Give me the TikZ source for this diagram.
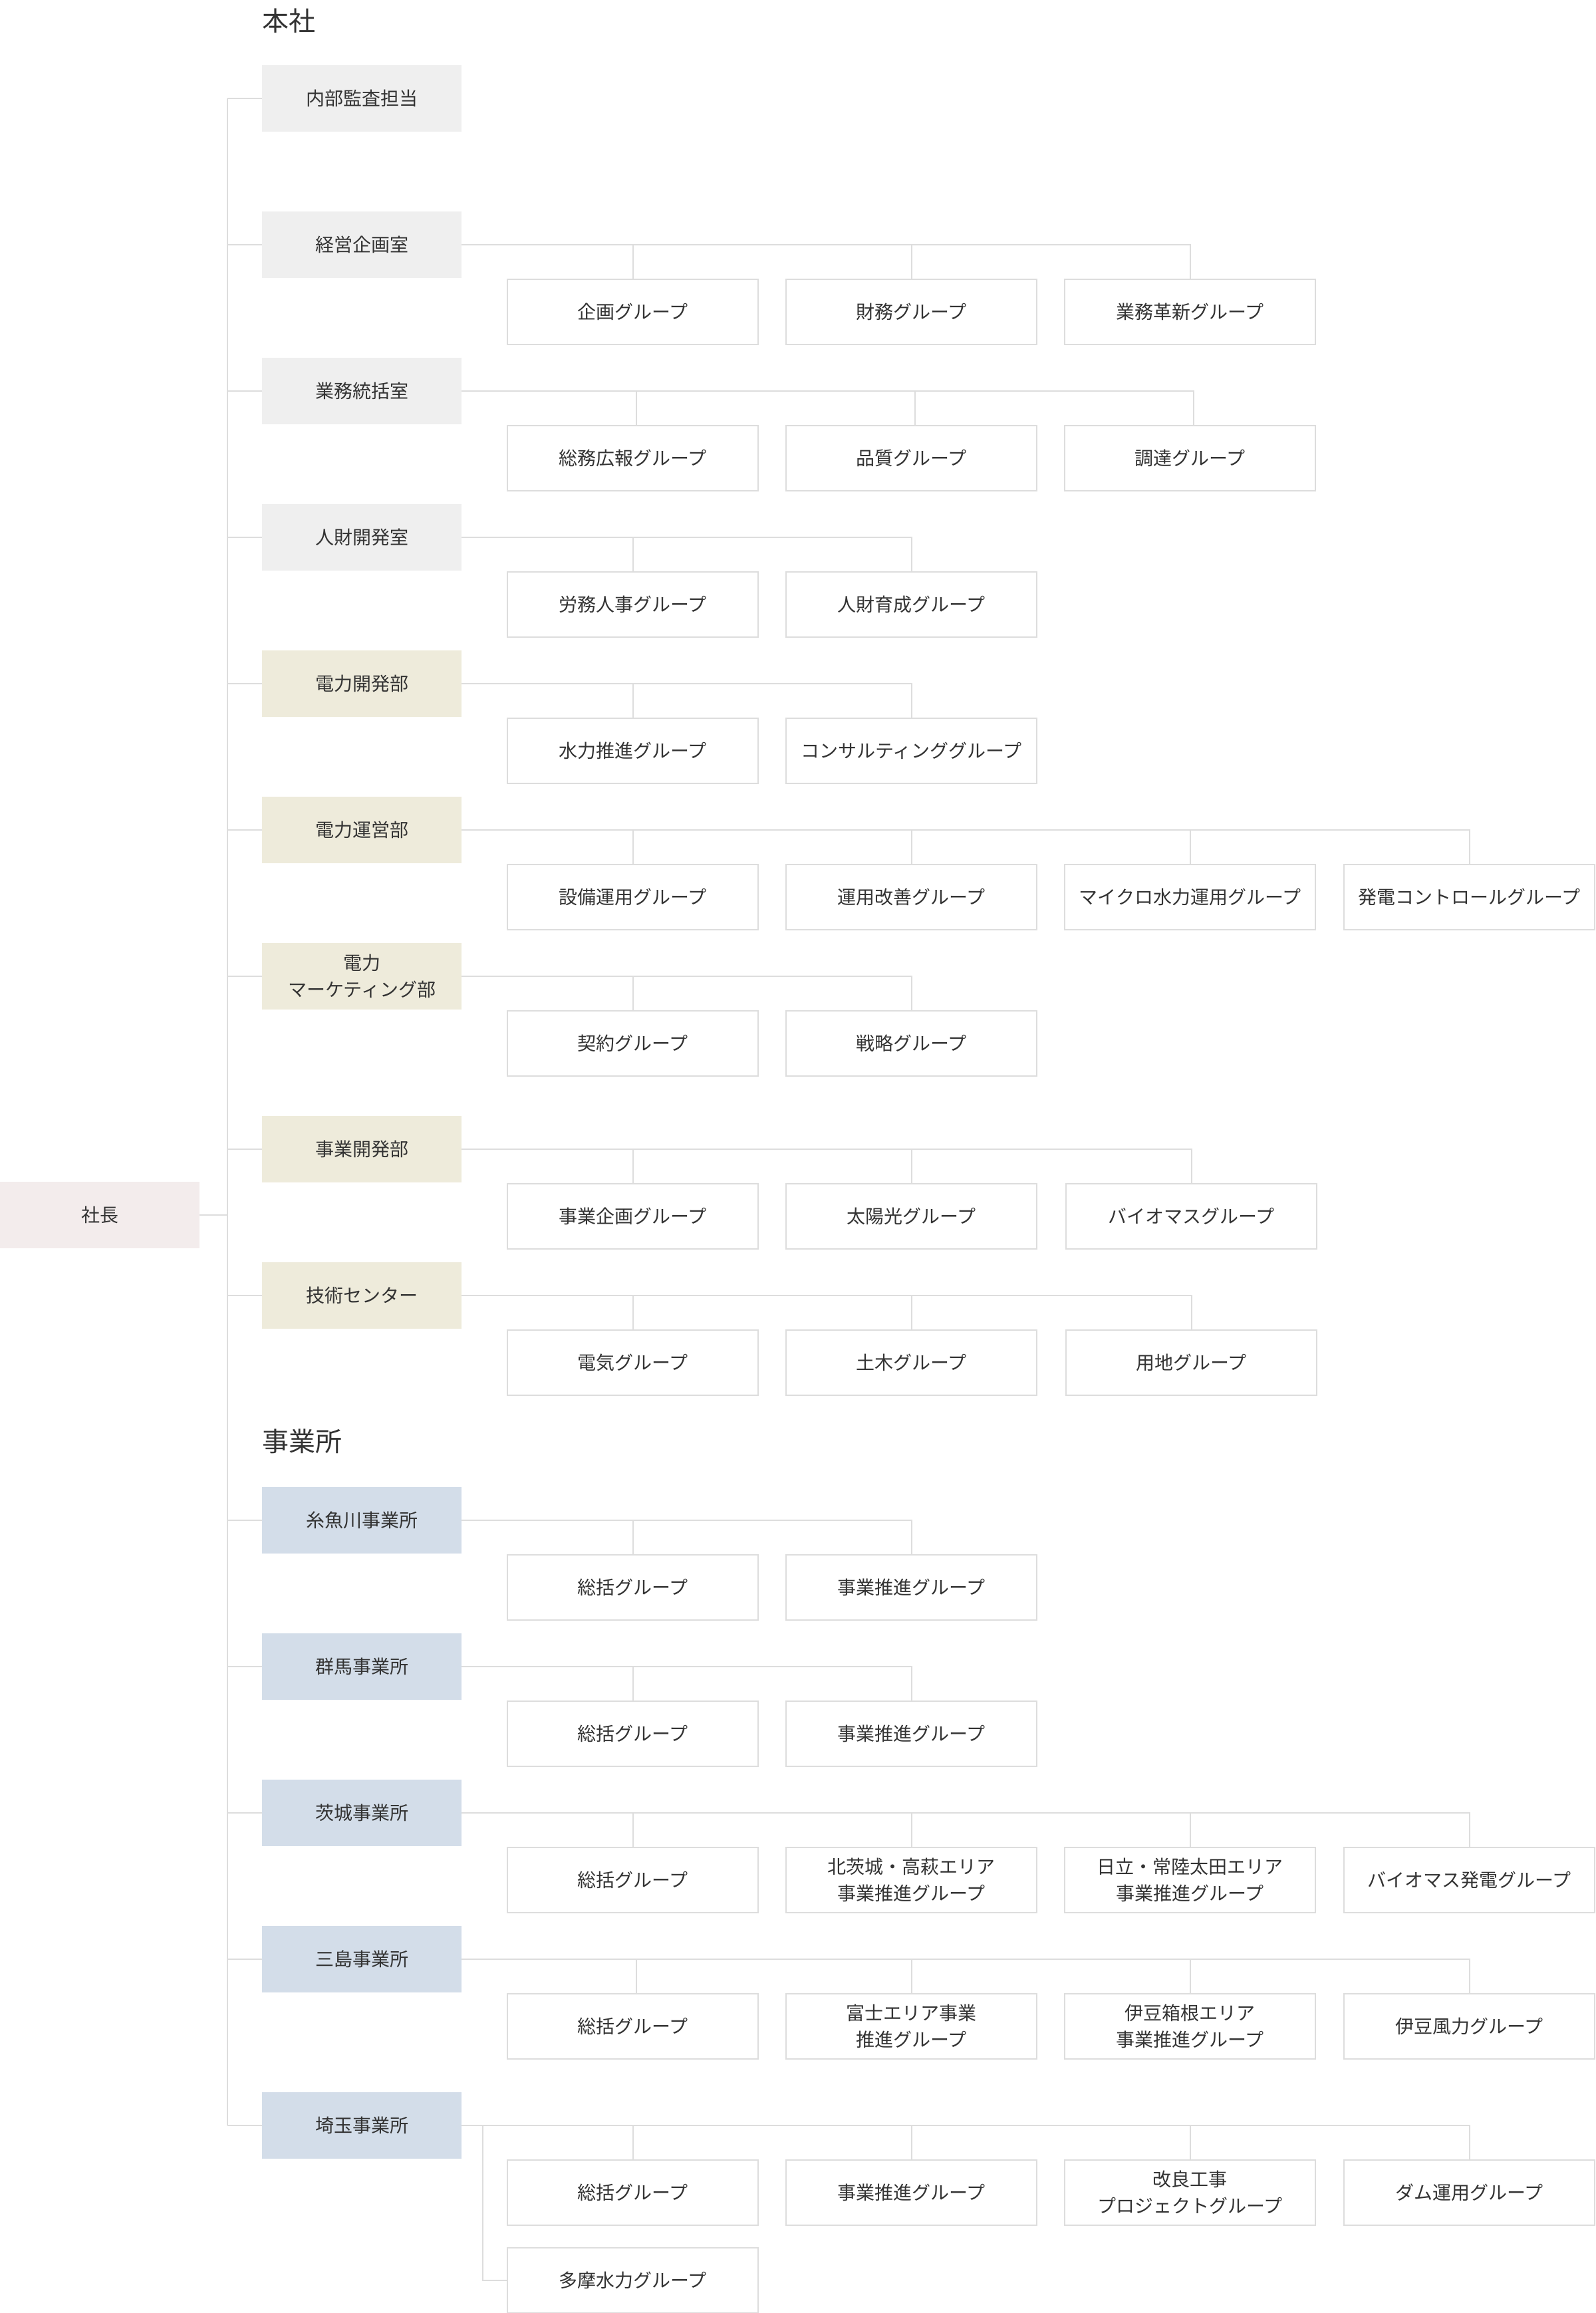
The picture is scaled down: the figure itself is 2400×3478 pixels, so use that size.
\documentclass[tikz,border=0pt]{standalone}
\usepackage{fontspec}
\setmainfont{Noto Sans CJK JP}
\definecolor{txt}{HTML}{333333}
\definecolor{lin}{HTML}{DDDDDD}
\definecolor{fgray}{HTML}{EFEFEF}
\definecolor{fbeige}{HTML}{EEEBDB}
\definecolor{fblue}{HTML}{D3DDE9}
\definecolor{fpink}{HTML}{F3ECEC}
\tikzset{
  deptbox/.style={draw=none, anchor=north west, minimum width=300pt, minimum height=100pt,
    inner sep=0pt, align=center, text=txt, font=\fontsize{28}{40}\selectfont},
  grpbox/.style={draw=lin, line width=2pt, fill=white, anchor=north west, minimum width=377pt,
    minimum height=98pt, inner sep=0pt, align=center, text=txt, font=\fontsize{28}{40}\selectfont},
  conn/.style={draw=lin, line width=2pt},
  ttl/.style={anchor=west, inner sep=0pt, text=txt, font=\fontsize{40}{48}\selectfont}
}
\newcommand\grpnode[4]{\node[grpbox] (#1) at (#2,#3) {#4};}
\begin{document}
\begin{tikzpicture}[x=1pt,y=-1pt]
\useasboundingbox (0,0) rectangle (2400,3478);
\fill[white] (0,0) rectangle (2400,3478);
\coordinate (tx) at (342,0);
\coordinate (sx) at (726,0);
% titles
\node[ttl] (t1) at (394,31) {本社};
\node[ttl] (t2) at (394,2167) {事業所};
% president
\node[deptbox, fill=fpink] (p) at (0,1777) {社長};
% departments
\node[deptbox, fill=fgray] (d0) at (394,98) {内部監査担当};
\node[deptbox, fill=fgray] (d1) at (394,318) {経営企画室};
\node[deptbox, fill=fgray] (d2) at (394,538) {業務統括室};
\node[deptbox, fill=fgray] (d3) at (394,758) {人財開発室};
\node[deptbox, fill=fbeige] (d4) at (394,978) {電力開発部};
\node[deptbox, fill=fbeige] (d5) at (394,1198) {電力運営部};
\node[deptbox, fill=fbeige] (d6) at (394,1418) {電力\\マーケティング部};
\node[deptbox, fill=fbeige] (d7) at (394,1678) {事業開発部};
\node[deptbox, fill=fbeige] (d8) at (394,1898) {技術センター};
\node[deptbox, fill=fblue] (d9) at (394,2236) {糸魚川事業所};
\node[deptbox, fill=fblue] (d10) at (394,2456) {群馬事業所};
\node[deptbox, fill=fblue] (d11) at (394,2676) {茨城事業所};
\node[deptbox, fill=fblue] (d12) at (394,2896) {三島事業所};
\node[deptbox, fill=fblue] (d13) at (394,3146) {埼玉事業所};
% groups
\grpnode{g1a}{762}{419}{企画グループ}
\grpnode{g1b}{1181}{419}{財務グループ}
\grpnode{g1c}{1600}{419}{業務革新グループ}
\grpnode{g2a}{762}{639}{総務広報グループ}
\grpnode{g2b}{1181}{639}{品質グループ}
\grpnode{g2c}{1600}{639}{調達グループ}
\grpnode{g3a}{762}{859}{労務人事グループ}
\grpnode{g3b}{1181}{859}{人財育成グループ}
\grpnode{g4a}{762}{1079}{水力推進グループ}
\grpnode{g4b}{1181}{1079}{コンサルティンググループ}
\grpnode{g5a}{762}{1299}{設備運用グループ}
\grpnode{g5b}{1181}{1299}{運用改善グループ}
\grpnode{g5c}{1600}{1299}{マイクロ水力運用グループ}
\grpnode{g5d}{2020}{1299}{発電コントロールグループ}
\grpnode{g6a}{762}{1519}{契約グループ}
\grpnode{g6b}{1181}{1519}{戦略グループ}
\grpnode{g7a}{762}{1779}{事業企画グループ}
\grpnode{g7b}{1181}{1779}{太陽光グループ}
\grpnode{g7c}{1602}{1779}{バイオマスグループ}
\grpnode{g8a}{762}{1999}{電気グループ}
\grpnode{g8b}{1181}{1999}{土木グループ}
\grpnode{g8c}{1602}{1999}{用地グループ}
\grpnode{g9a}{762}{2337}{総括グループ}
\grpnode{g9b}{1181}{2337}{事業推進グループ}
\grpnode{g10a}{762}{2557}{総括グループ}
\grpnode{g10b}{1181}{2557}{事業推進グループ}
\grpnode{g11a}{762}{2777}{総括グループ}
\grpnode{g11b}{1181}{2777}{北茨城・高萩エリア\\事業推進グループ}
\grpnode{g11c}{1600}{2777}{日立・常陸太田エリア\\事業推進グループ}
\grpnode{g11d}{2020}{2777}{バイオマス発電グループ}
\grpnode{g12a}{762}{2997}{総括グループ}
\grpnode{g12b}{1181}{2997}{富士エリア事業\\推進グループ}
\grpnode{g12c}{1600}{2997}{伊豆箱根エリア\\事業推進グループ}
\grpnode{g12d}{2020}{2997}{伊豆風力グループ}
\grpnode{g13a}{762}{3247}{総括グループ}
\grpnode{g13b}{1181}{3247}{事業推進グループ}
\grpnode{g13c}{1600}{3247}{改良工事\\プロジェクトグループ}
\grpnode{g13d}{2020}{3247}{ダム運用グループ}
\grpnode{g13e}{762}{3379}{多摩水力グループ}
% main trunk
\draw[conn] (d0.west -| tx) -- (d13.west -| tx);
\draw[conn] (p.east) -- (p.east -| tx);
\foreach \d in {d0,d1,d2,d3,d4,d5,d6,d7,d8,d9,d10,d11,d12,d13}
  \draw[conn] (\d.west) -- (\d.west -| tx);
% brackets
\draw[conn] (d1.east) -| (g1c.north);
\foreach \g in {g1a,g1b} \draw[conn] (\g.north) -- (\g.north |- d1.east);
\draw[conn] (d2.east) -| ([xshift=5pt]g2c.north);
\foreach \g in {g2a,g2b} \draw[conn] ([xshift=5pt]\g.north) -- ([xshift=5pt]\g.north |- d2.east);
\draw[conn] (d3.east) -| (g3b.north);
\draw[conn] (g3a.north) -- (g3a.north |- d3.east);
\draw[conn] (d4.east) -| (g4b.north);
\draw[conn] (g4a.north) -- (g4a.north |- d4.east);
\draw[conn] (d5.east) -| (g5d.north);
\foreach \g in {g5a,g5b,g5c} \draw[conn] (\g.north) -- (\g.north |- d5.east);
\draw[conn] (d6.east) -| (g6b.north);
\draw[conn] (g6a.north) -- (g6a.north |- d6.east);
\draw[conn] (d7.east) -| (g7c.north);
\foreach \g in {g7a,g7b} \draw[conn] (\g.north) -- (\g.north |- d7.east);
\draw[conn] (d8.east) -| (g8c.north);
\foreach \g in {g8a,g8b} \draw[conn] (\g.north) -- (\g.north |- d8.east);
\draw[conn] (d9.east) -| (g9b.north);
\draw[conn] (g9a.north) -- (g9a.north |- d9.east);
\draw[conn] (d10.east) -| (g10b.north);
\draw[conn] (g10a.north) -- (g10a.north |- d10.east);
\draw[conn] (d11.east) -| (g11d.north);
\foreach \g in {g11a,g11b,g11c} \draw[conn] (\g.north) -- (\g.north |- d11.east);
\draw[conn] (d12.east) -| (g12d.north);
\draw[conn] ([xshift=5pt]g12a.north) -- ([xshift=5pt]g12a.north |- d12.east);
\foreach \g in {g12b,g12c} \draw[conn] (\g.north) -- (\g.north |- d12.east);
\draw[conn] (d13.east) -| (g13d.north);
\foreach \g in {g13a,g13b,g13c} \draw[conn] (\g.north) -- (\g.north |- d13.east);
\draw[conn] (d13.east -| sx) |- (g13e.west);
\end{tikzpicture}
\end{document}
